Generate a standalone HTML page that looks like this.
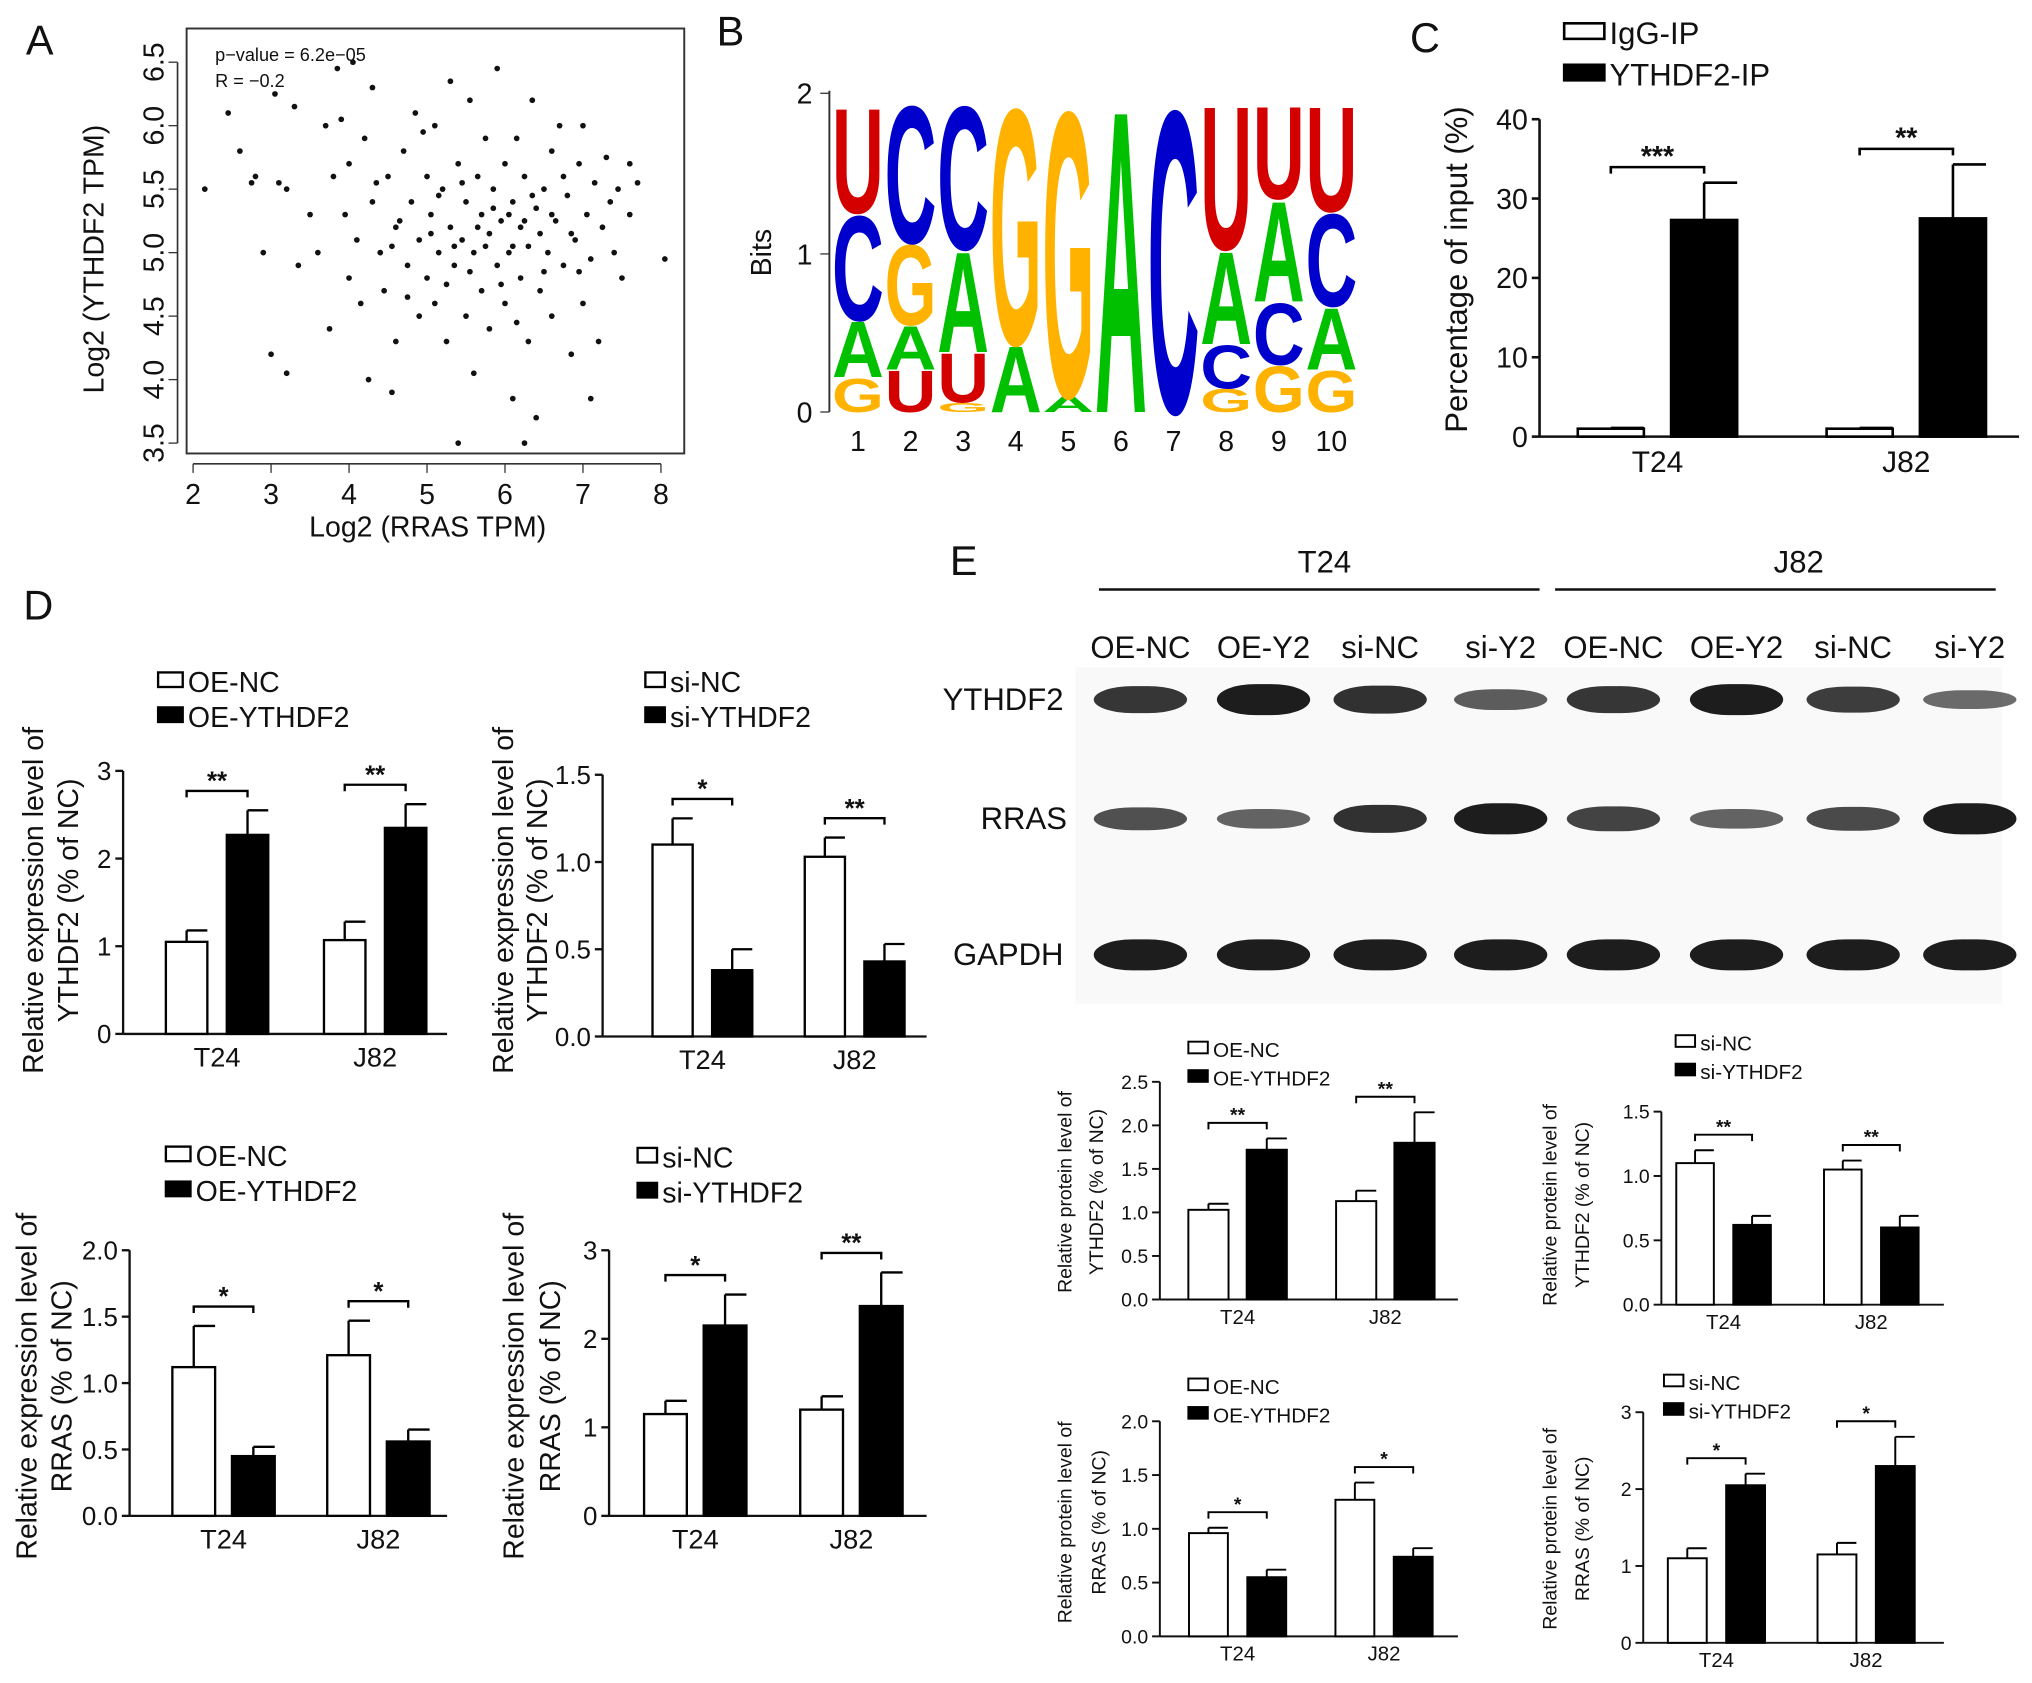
<!DOCTYPE html>
<html><head><meta charset="utf-8"><style>
html,body{margin:0;padding:0;background:#fff;}
svg{display:block;font-family:"Liberation Sans",Arial,sans-serif;}
</style></head><body>
<svg id="fig" width="2032" height="1683" viewBox="0 0 1568 1299" preserveAspectRatio="none" xmlns="http://www.w3.org/2000/svg">
<rect width="1568" height="1299" fill="#fff"/>
<g id="layer"></g>
</svg>
<script>
// ---------- Panel A data ----------
const scatterRRAS = [2.15,2.45,2.6,2.75,2.8,2.9,3.0,3.05,3.1,3.2,3.2,3.3,3.35,3.5,3.6,3.7,3.75,3.8,3.85,3.9,3.95,4.0,4.0,4.05,4.1,4.15,4.2,4.25,4.3,4.3,4.4,4.45,4.5,4.55,4.6,4.6,4.7,4.75,4.8,4.85,4.9,4.9,5.0,5.0,5.05,5.1,5.1,5.15,5.2,5.25,5.3,5.3,5.35,5.4,5.45,5.5,5.5,5.55,5.6,5.6,5.65,5.7,5.7,5.75,5.8,5.8,5.85,5.9,5.9,5.95,6.0,6.0,6.05,6.1,6.1,6.15,6.2,6.2,6.25,6.3,6.3,6.35,6.4,6.4,6.45,6.5,6.55,6.6,6.6,6.65,6.7,6.75,6.8,6.85,6.9,6.95,7.0,7.0,7.05,7.1,7.1,7.15,7.2,7.25,7.3,7.4,7.45,7.5,7.6,7.7,8.05,5.4,6.25,4.95,5.75,6.45,5.25,6.05,4.65,5.55,6.6,5.85,6.15,4.35,5.05,6.75,5.95,6.35,5.45,6.85,4.75,6.5,5.65,7.35,5.15,6.95,5.35,6.25,4.55,7.6,6.1];
const scatterYTHDF2 = [5.5,6.1,5.8,5.55,5.6,5.0,4.2,6.25,5.55,4.05,5.5,6.15,4.9,5.3,5.0,6.0,4.4,5.6,6.45,6.05,5.3,4.8,5.7,6.5,5.1,4.6,5.9,4.0,5.4,6.3,5.0,4.7,5.6,3.9,5.2,4.3,5.8,4.9,5.4,6.1,4.5,5.1,5.6,4.8,5.3,4.6,6.0,5.0,5.5,4.3,5.2,6.35,4.9,5.7,5.1,4.5,5.4,6.2,4.05,5.0,5.6,4.7,5.3,5.9,4.4,5.15,5.5,4.9,6.45,5.25,4.6,5.7,5.0,5.4,3.85,5.9,4.8,5.2,5.6,4.3,5.05,6.2,5.35,3.7,4.7,5.5,5.0,5.8,4.5,5.25,6.0,4.9,5.45,4.2,5.1,5.7,4.6,6.0,5.3,3.85,4.95,5.55,4.3,5.2,5.75,5.0,5.5,4.8,5.3,5.55,4.95,3.5,3.5,5.95,5.05,5.15,4.75,5.3,5.25,4.85,5.3,5.35,4.45,5.55,5.15,5.6,4.75,5.45,5.55,5.15,4.65,4.85,5.2,5.4,5.45,4.85,5.05,5.25,5.05,5.7,5.05];
const scatterXTicks = [2,3,4,5,6,7,8];
const scatterYTicks = [3.5,4.0,4.5,5.0,5.5,6.0,6.5];

// ---------- Panel B data (bits, bottom to top) ----------
const logoLetters = [["G","A","C","U"],["U","A","G","C"],["G","U","A","C"],["A","G"],["A","G"],["A"],["C"],["G","C","A","U"],["G","C","A","U"],["G","A","C","U"]];
const logoBits = [[0.22,0.36,0.68,0.68],[0.27,0.28,0.52,0.89],[0.06,0.32,0.65,0.93],[0.43,1.53],[0.1,1.85],[1.96],[1.96],[0.15,0.28,0.6,0.93],[0.3,0.4,0.65,0.6],[0.27,0.4,0.6,0.68]];

// ---------- Bar chart data ----------
const categories = ["T24","J82"];
const cVals=[[1.0,27.3],[1.0,27.5]]; const cErr=[[1.1,32.0],[1.1,34.3]]; const cSig=["***","**"];
const d1Vals=[[1.05,2.27],[1.07,2.35]]; const d1Err=[[1.18,2.55],[1.28,2.62]]; const d1Sig=["**","**"];
const d2Vals=[[1.1,0.38],[1.03,0.43]]; const d2Err=[[1.25,0.5],[1.14,0.53]]; const d2Sig=["*","**"];
const d3Vals=[[1.12,0.45],[1.21,0.56]]; const d3Err=[[1.43,0.52],[1.47,0.65]]; const d3Sig=["*","*"];
const d4Vals=[[1.15,2.15],[1.2,2.37]]; const d4Err=[[1.3,2.5],[1.35,2.75]]; const d4Sig=["*","**"];
const e1Vals=[[1.03,1.72],[1.13,1.8]]; const e1Err=[[1.1,1.85],[1.25,2.15]]; const e1Sig=["**","**"];
const e2Vals=[[1.1,0.62],[1.05,0.6]]; const e2Err=[[1.2,0.69],[1.12,0.69]]; const e2Sig=["**","**"];
const e3Vals=[[0.96,0.55],[1.27,0.74]]; const e3Err=[[1.01,0.62],[1.43,0.82]]; const e3Sig=["*","*"];
const e4Vals=[[1.1,2.05],[1.15,2.3]]; const e4Err=[[1.23,2.2],[1.3,2.68]]; const e4Sig=["*","*"];

const NS="http://www.w3.org/2000/svg";
const L=document.getElementById('layer');
function mk(tag,attrs,parent){const e=document.createElementNS(NS,tag);for(const k in attrs)e.setAttribute(k,attrs[k]);(parent||L).appendChild(e);return e;}
function txt(s,x,y,fs,anchor,parent,extra){const t=mk('text',Object.assign({x:x,y:y,'font-size':fs,'text-anchor':anchor||'start',fill:'#111'},extra||{}),parent);t.textContent=s;return t;}

[["A",20,42],["B",553,35],["C",1088,40],["D",18,478],["E",733,444]].forEach(p=>{
  const t=txt(p[0],p[1],p[2],32,'start');
  
  
});

// ---------- Panel A ----------
(function(){
  const g=mk('g',{});
  
  
  const sx=v=>149+(v-2)*60.17, sy=v=>48+(6.5-v)*98;
  mk('rect',{x:144,y:22,width:384,height:328,fill:'none',stroke:'#333','stroke-width':1.5},g);
  mk('line',{x1:sx(2),x2:sx(8),y1:358,y2:358,stroke:'#333','stroke-width':1.3},g);
  scatterXTicks.forEach(v=>{mk('line',{x1:sx(v),x2:sx(v),y1:358,y2:365,stroke:'#333'},g);txt(String(v),sx(v),389,22,'middle',g);});
  mk('line',{x1:137,x2:137,y1:sy(6.5),y2:sy(3.5),stroke:'#333','stroke-width':1.3},g);
  scatterYTicks.forEach(v=>{mk('line',{x1:130,x2:137,y1:sy(v),y2:sy(v),stroke:'#333'},g);
    txt(v.toFixed(1),0,0,22,'middle',g,{transform:`translate(126,${sy(v)}) rotate(-90)`});});
  txt("Log2 (YTHDF2 TPM)",0,0,22,'middle',g,{transform:'translate(80,200) rotate(-90)'});
  txt("Log2 (RRAS TPM)",330,414,22,'middle',g);
  txt("p−value = 6.2e−05",166,47,14,'start',g);
  txt("R = −0.2",166,67,14,'start',g);
  for(let i=0;i<scatterRRAS.length;i++){
    const c=mk('circle',{cx:sx(scatterRRAS[i]),cy:sy(scatterYTHDF2[i]),r:2.2,fill:'#111'},g);
    
    
  }
})();

// ---------- Panel B ----------
(function(){
  const g=mk('g',{});
  
  
  const base=318, perBit=122, colors={U:'#d40000',C:'#0000cc',G:'#ffb300',A:'#00c000'};
  mk('line',{x1:640,x2:640,y1:70,y2:318,stroke:'#333','stroke-width':1.5},g);
  [[0,318],[1,196],[2,72]].forEach(t=>{mk('line',{x1:633,x2:640,y1:t[1],y2:t[1],stroke:'#333'},g);txt(String(t[0]),627,t[1]+8,22,'end',g);});
  txt("Bits",0,0,22,'middle',g,{transform:'translate(595,195) rotate(-90)'});
  const cx0=662, dx=40.6, w=40, F=50;
  logoBits.forEach((col,i)=>{
    let y=base; const x=cx0+i*dx;
    txt(String(i+1),x,348,22,'middle',g);
    col.forEach((b,j)=>{
      const h=b*perBit; const s=h/(0.716*F);
      const t=txt(logoLetters[i][j],0,0,F,'start',g,{transform:`translate(${x-w/2},${y}) scale(1,${s})`,textLength:w,lengthAdjust:'spacingAndGlyphs','font-weight':'bold',fill:colors[logoLetters[i][j]]});
      
      
      y-=h;
    });
  });
})();

// ---------- generic bar chart ----------
function barChart(o){
  const g=mk('g',{});
  
  
  const ys=v=>o.yBase-(v/o.max)*(o.yBase-o.yTop);
  mk('line',{x1:o.ax,x2:o.ax,y1:o.yTop,y2:o.yBase,stroke:'#111','stroke-width':o.lw},g);
  mk('line',{x1:o.ax,x2:o.xEnd,y1:o.yBase,y2:o.yBase,stroke:'#111','stroke-width':o.lw},g);
  for(let v=0;v<=o.max+1e-9;v+=o.step){
    mk('line',{x1:o.ax-6,x2:o.ax,y1:ys(v),y2:ys(v),stroke:'#111','stroke-width':o.lw},g);
    txt(v.toFixed(o.dec),o.ax-9,ys(v)+o.fs*0.36,o.fs,'end',g);
  }
  o.vals.forEach((pair,i)=>{
    const gc=o.gc+i*o.sp;
    txt(categories[i],gc,o.yBase+o.fs*1.25,o.fs*1.05,'middle',g);
    pair.forEach((v,j)=>{
      const cx=gc+(j?o.off:-o.off);
      const r=mk('rect',{x:cx-o.bw/2,y:ys(v),width:o.bw,height:o.yBase-ys(v),fill:j?'#000':'#fff',stroke:'#000','stroke-width':o.lw},g);
      
      
      const e=o.err[i][j];
      mk('line',{x1:cx,x2:cx,y1:ys(v),y2:ys(e),stroke:'#000','stroke-width':o.lw},g);
      mk('line',{x1:cx,x2:cx+o.bw/2,y1:ys(e),y2:ys(e),stroke:'#000','stroke-width':o.lw},g);
    });
    const by=ys(Math.max(o.err[i][0],o.err[i][1]))-o.sigGap;
    const x1=gc-o.off,x2=gc+o.off;
    mk('path',{d:`M${x1} ${by+5}V${by}H${x2}V${by+5}`,fill:'none',stroke:'#000','stroke-width':o.lw},g);
    const st=txt(o.sig[i],gc,by-1,o.fs*1.0,'middle',g,{'font-weight':'bold'});
    
    
  });
  const lg=mk('g',{},g);
  
  
  o.legend.forEach((s,j)=>{
    const y=o.ly+j*o.lsp;
    mk('rect',{x:o.lx,y:y-o.ls,width:o.lbw,height:o.ls*0.75,fill:j?'#000':'#fff',stroke:'#000','stroke-width':o.lw},lg);
    txt(s,o.lx+o.lbw+4,y,o.lfs,'start',lg);
  });
  o.ylab.forEach((s,k)=>txt(s,0,0,o.yfs,'middle',g,{transform:`translate(${o.ylx[k]},${o.yly}) rotate(-90)`}));
}

barChart({name:'chart-c-rip',vals:cVals,err:cErr,sig:cSig,ax:1188,xEnd:1558,yBase:337,yTop:92,max:40,step:10,dec:0,fs:22,lw:2,
  gc:1279,sp:192,off:36,bw:51,sigGap:12,legend:["IgG-IP","YTHDF2-IP"],lx:1207,ly:34,lsp:32,ls:16,lbw:31,lfs:24,
  ylab:["Percentage of input (%)"],ylx:[1132],yly:208,yfs:24});
barChart({name:'chart-d-ythdf2-oe',vals:d1Vals,err:d1Err,sig:d1Sig,ax:95,xEnd:345,yBase:798,yTop:595,max:3,step:1,dec:0,fs:20,lw:1.8,
  gc:167.5,sp:122,off:23.5,bw:32,sigGap:15,legend:["OE-NC","OE-YTHDF2"],lx:122,ly:534,lsp:27,ls:15,lbw:19,lfs:22,
  ylab:["Relative expression level of","YTHDF2 (% of NC)"],ylx:[33,60],yly:695,yfs:22});
barChart({name:'chart-d-ythdf2-si',vals:d2Vals,err:d2Err,sig:d2Sig,ax:465,xEnd:715,yBase:800,yTop:598,max:1.5,step:0.5,dec:1,fs:20,lw:1.8,
  gc:542,sp:117.5,off:23,bw:31,sigGap:15,legend:["si-NC","si-YTHDF2"],lx:498,ly:534,lsp:27,ls:15,lbw:15,lfs:22,
  ylab:["Relative expression level of","YTHDF2 (% of NC)"],ylx:[396,422],yly:695,yfs:22});
barChart({name:'chart-d-rras-oe',vals:d3Vals,err:d3Err,sig:d3Sig,ax:100,xEnd:345,yBase:1170,yTop:965,max:2,step:0.5,dec:1,fs:20,lw:1.8,
  gc:172.5,sp:119.5,off:23,bw:33,sigGap:15,legend:["OE-NC","OE-YTHDF2"],lx:128,ly:900,lsp:27,ls:15,lbw:19,lfs:22,
  ylab:["Relative expression level of","RRAS (% of NC)"],ylx:[28,55],yly:1070,yfs:22});
barChart({name:'chart-d-rras-si',vals:d4Vals,err:d4Err,sig:d4Sig,ax:470,xEnd:715,yBase:1170,yTop:965,max:3,step:1,dec:0,fs:20,lw:1.8,
  gc:536.5,sp:120.5,off:23,bw:33,sigGap:15,legend:["si-NC","si-YTHDF2"],lx:492,ly:901,lsp:27,ls:15,lbw:15,lfs:22,
  ylab:["Relative expression level of","RRAS (% of NC)"],ylx:[404,432],yly:1070,yfs:22});
barChart({name:'chart-e-ythdf2-oe',vals:e1Vals,err:e1Err,sig:e1Sig,ax:895,xEnd:1125,yBase:1003,yTop:835,max:2.5,step:0.5,dec:1,fs:15,lw:1.5,
  gc:955,sp:114,off:22.5,bw:31,sigGap:12,legend:["OE-NC","OE-YTHDF2"],lx:917,ly:816,lsp:22,ls:12,lbw:15,lfs:16,
  ylab:["Relative protein level of","YTHDF2 (% of NC)"],ylx:[827,851],yly:920,yfs:15});
barChart({name:'chart-e-ythdf2-si',vals:e2Vals,err:e2Err,sig:e2Sig,ax:1282,xEnd:1500,yBase:1007,yTop:858,max:1.5,step:0.5,dec:1,fs:15,lw:1.5,
  gc:1330,sp:114,off:22,bw:29,sigGap:12,legend:["si-NC","si-YTHDF2"],lx:1293,ly:811,lsp:22,ls:12,lbw:15,lfs:16,
  ylab:["Relative protein level of","YTHDF2 (% of NC)"],ylx:[1201,1226],yly:930,yfs:15});
barChart({name:'chart-e-rras-oe',vals:e3Vals,err:e3Err,sig:e3Sig,ax:895,xEnd:1125,yBase:1263,yTop:1097,max:2,step:0.5,dec:1,fs:15,lw:1.5,
  gc:955,sp:113,off:22.5,bw:30,sigGap:12,legend:["OE-NC","OE-YTHDF2"],lx:917,ly:1076,lsp:22,ls:12,lbw:15,lfs:16,
  ylab:["Relative protein level of","RRAS (% of NC)"],ylx:[827,853],yly:1175,yfs:15});
barChart({name:'chart-e-rras-si',vals:e4Vals,err:e4Err,sig:e4Sig,ax:1268,xEnd:1500,yBase:1268,yTop:1090,max:3,step:1,dec:0,fs:15,lw:1.5,
  gc:1324.5,sp:115.5,off:22.5,bw:30,sigGap:12,legend:["si-NC","si-YTHDF2"],lx:1284,ly:1073,lsp:22,ls:12,lbw:15,lfs:16,
  ylab:["Relative protein level of","RRAS (% of NC)"],ylx:[1201,1226],yly:1180,yfs:15});

// ---------- Western blot ----------
const laneLabels=["OE-NC","OE-Y2","si-NC","si-Y2","OE-NC","OE-Y2","si-NC","si-Y2"];
const ythdf2Band=[0.8,1.0,0.85,0.5,0.8,1.0,0.75,0.4];
const rrasBand=[0.6,0.45,0.85,1.0,0.7,0.45,0.65,1.0];
const gapdhBand=[1,1,1,1,1,1,1,1];
(function(){
  const g=mk('g',{});
  
  
  mk('rect',{x:830,y:515,width:715,height:260,fill:'#f9f9f9'},g);
  txt("T24",1022,442,24,'middle',g); txt("J82",1388,442,24,'middle',g);
  mk('line',{x1:848,x2:1188,y1:455,y2:455,stroke:'#111','stroke-width':2},g);
  mk('line',{x1:1200,x2:1540,y1:455,y2:455,stroke:'#111','stroke-width':2},g);
  const lx=[880,975,1065,1158,1245,1340,1430,1520];
  lx.forEach((x,i)=>txt(laneLabels[i],x,508,24,'middle',g));
  [["YTHDF2",774,548,ythdf2Band],["RRAS",790,640,rrasBand],["GAPDH",778,745,gapdhBand]].forEach(r=>{
    txt(r[0],r[1],r[2],24,'middle',g);
    const y=r[2]-8;
    lx.forEach((x,i)=>{
      const k=r[3][i];
      const e=mk('rect',{x:x-36,y:y-(4+k*8),width:72,height:2*(4+k*8),rx:30,ry:4+k*8,fill:'#111',opacity:0.4+0.55*k},g);
      
      
    });
  });
})();
</script>
</body></html>
